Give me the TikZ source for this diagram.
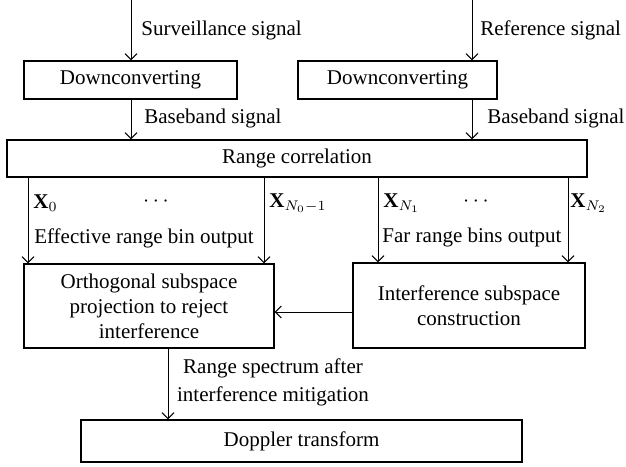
\documentclass[tikz,border=0pt]{standalone}
\usepackage{fontspec}
\setmainfont{Liberation Serif}
\usetikzlibrary{arrows.meta}
\begin{document}
\begin{tikzpicture}[x=0.5pt,y=-0.5pt,
  font=\fontsize{10.5}{12.5}\selectfont,
  box/.style={draw, line width=0.6pt, inner sep=0pt, align=center},
  arr/.style={line width=0.5pt, -{Straight Barb[length=3pt,width=6pt,line width=0.5pt]}},
  lbl/.style={inner sep=0pt, anchor=west}]
\useasboundingbox (0,0) rectangle (626,466);
% boxes
\node[box, minimum width=106.5pt, minimum height=19pt] (d1) at (130.5,80) {Downconverting};
\node[box, minimum width=99.5pt, minimum height=19pt] (d2) at (397.5,80) {Downconverting};
\node[box, minimum width=290pt, minimum height=18.5pt] (rc) at (297,158.5) {Range correlation};
\node[box, minimum width=125pt, minimum height=42pt] (orth) at (149,306) {Orthogonal subspace\\projection to reject\\interference};
\node[box, minimum width=116pt, minimum height=42.5pt] (intf) at (469,305.5) {Interference subspace\\construction};
\node[box, minimum width=220.5pt, minimum height=21pt] (dop) at (301.5,441) {Doppler transform};
% free ends / columns
\coordinate (in1) at (131,0);
\coordinate (in2) at (472,0);
\coordinate (c1) at (28,0);
\coordinate (c2) at (264,0);
\coordinate (c3) at (378,0);
\coordinate (c4) at (568,0);
\coordinate (hy) at (0,312);
\coordinate (vx) at (168,0);
% connectors
\draw[arr] (in1) -- (in1 |- d1.north);
\draw[arr] (in2) -- (in2 |- d2.north);
\draw[arr] (in1 |- d1.south) -- (in1 |- rc.north);
\draw[arr] (in2 |- d2.south) -- (in2 |- rc.north);
\draw[arr] (c1 |- rc.south) -- (c1 |- orth.north);
\draw[arr] (c2 |- rc.south) -- (c2 |- orth.north);
\draw[arr] (c3 |- rc.south) -- (c3 |- intf.north);
\draw[arr] (c4 |- rc.south) -- (c4 |- intf.north);
\draw[arr] (hy -| intf.west) -- (hy -| orth.east);
\draw[arr] (vx |- orth.south) -- (vx |- dop.north);
% labels
\node[lbl] (ls) at (141,30) {Surveillance signal};
\node[lbl] (lr) at (480,30) {Reference signal};
\node[lbl] (lb1) at (144,118) {Baseband signal};
\node[lbl] (lb2) at (487,118) {Baseband signal};
\node[lbl] (x0) at (33,203) {\textbf{X}$_0$};
\node (dots1) at (156,202) {$\cdots$};
\node[lbl] (xn0) at (269,203) {\textbf{X}$_{N_0-1}$};
\node (eff) at (144,238) {Effective range bin output};
\node[lbl] (xn1) at (383,203) {\textbf{X}$_{N_1}$};
\node (dots2) at (476,202) {$\cdots$};
\node[lbl] (xn2) at (570,203) {\textbf{X}$_{N_2}$};
\node (far) at (472,237) {Far range bins output};
\node[align=center, font=\fontsize{10.5}{14}\selectfont] (rs) at (273,382) {Range spectrum after\\interference mitigation};
\end{tikzpicture}
\end{document}
